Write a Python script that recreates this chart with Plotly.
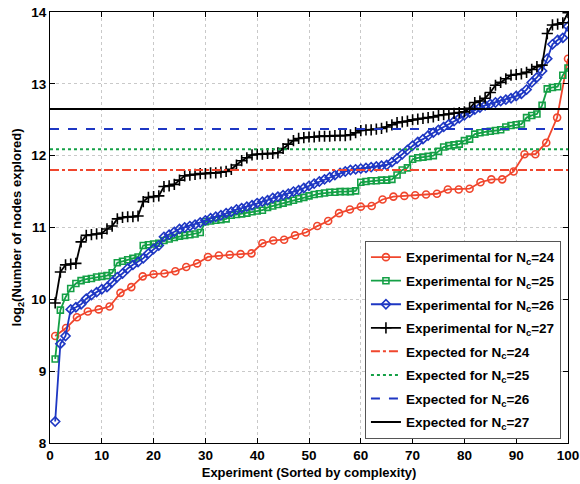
import plotly.graph_objects as go

# ---------------- data ----------------
exp_x = list(range(1, 101))

red_x = [1.0, 3.1, 5.2, 7.3, 9.4, 11.5, 13.6, 15.7, 17.9, 20.0, 22.1, 24.2, 26.3, 28.4,
         30.5, 32.6, 34.7, 36.8, 38.9, 41.0, 43.1, 45.2, 47.3, 49.4, 51.6, 53.7, 55.8,
         57.9, 60.0, 62.1, 64.2, 66.3, 68.4, 70.5, 72.6, 74.7, 76.8, 78.9, 81.0, 83.1,
         85.2, 87.3, 89.5, 91.6, 93.7, 95.8, 97.9, 100.0]
red_y = [9.49, 9.60, 9.75, 9.83, 9.86, 9.90, 10.09, 10.17, 10.32, 10.35,
         10.36, 10.39, 10.45, 10.50, 10.59, 10.61, 10.62, 10.63, 10.64, 10.78,
         10.82, 10.83, 10.89, 10.93, 11.02, 11.09, 11.20, 11.25, 11.29, 11.30,
         11.39, 11.43, 11.44, 11.45, 11.46, 11.47, 11.53, 11.53, 11.54, 11.63,
         11.67, 11.67, 11.78, 12.02, 12.02, 12.18, 12.53, 13.35]

green_y = [9.17, 9.85, 10.03, 10.15, 10.22, 10.26, 10.28, 10.29, 10.31, 10.32,
           10.33, 10.37, 10.51, 10.53, 10.55, 10.57, 10.59, 10.75, 10.76, 10.77,
           10.78, 10.82, 10.84, 10.86, 10.88, 10.89, 10.90, 10.91, 10.93, 11.08,
           11.09, 11.10, 11.11, 11.12, 11.17, 11.18, 11.19, 11.20, 11.22, 11.23,
           11.24, 11.28, 11.30, 11.32, 11.34, 11.36, 11.38, 11.40, 11.42, 11.44,
           11.46, 11.47, 11.48, 11.49, 11.49, 11.50, 11.50, 11.50, 11.51, 11.63,
           11.64, 11.65, 11.65, 11.66, 11.66, 11.67, 11.73, 11.80, 11.83, 11.95,
           11.97, 11.98, 11.99, 12.00, 12.06, 12.12, 12.14, 12.15, 12.16, 12.21,
           12.23, 12.30, 12.32, 12.33, 12.34, 12.35, 12.36, 12.40, 12.42, 12.43,
           12.44, 12.53, 12.56, 12.58, 12.70, 12.93, 12.95, 12.96, 13.12, 13.22]

blue_y = [8.30, 9.38, 9.49, 9.86, 9.89, 9.93, 10.01, 10.06, 10.10, 10.14,
          10.17, 10.24, 10.31, 10.36, 10.43, 10.48, 10.52, 10.57, 10.64, 10.70,
          10.75, 10.87, 10.90, 10.94, 10.98, 11.00, 11.02, 11.04, 11.07, 11.10,
          11.13, 11.15, 11.17, 11.20, 11.22, 11.25, 11.27, 11.29, 11.31, 11.34,
          11.36, 11.38, 11.41, 11.43, 11.45, 11.47, 11.50, 11.52, 11.55, 11.58,
          11.61, 11.64, 11.67, 11.70, 11.73, 11.76, 11.78, 11.80, 11.81, 11.82,
          11.83, 11.84, 11.85, 11.86, 11.87, 11.91, 11.96, 12.02, 12.08, 12.14,
          12.19, 12.23, 12.28, 12.32, 12.36, 12.40, 12.44, 12.48, 12.52, 12.56,
          12.60, 12.64, 12.67, 12.70, 12.72, 12.74, 12.76, 12.78, 12.80, 12.83,
          12.86, 12.92, 13.02, 13.09, 13.18, 13.35, 13.55, 13.61, 13.64, 13.80]

black_y = [9.95, 10.38, 10.48, 10.49, 10.50, 10.80, 10.89, 10.90, 10.91, 10.92,
           10.98, 11.02, 11.12, 11.14, 11.15, 11.15, 11.16, 11.36, 11.42, 11.43,
           11.44, 11.57, 11.58, 11.60, 11.66, 11.72, 11.73, 11.74, 11.75, 11.75,
           11.76, 11.76, 11.77, 11.78, 11.81, 11.87, 11.93, 11.97, 12.01, 12.02,
           12.02, 12.03, 12.03, 12.04, 12.10, 12.16, 12.21, 12.24, 12.25, 12.26,
           12.26, 12.27, 12.27, 12.27, 12.28, 12.28, 12.28, 12.29, 12.32, 12.35,
           12.36, 12.36, 12.37, 12.38, 12.40, 12.43, 12.46, 12.47, 12.48, 12.50,
           12.51, 12.52, 12.53, 12.54, 12.56, 12.57, 12.58, 12.59, 12.60, 12.61,
           12.66, 12.74, 12.76, 12.80, 12.88, 12.98, 13.02, 13.07, 13.12, 13.13,
           13.14, 13.16, 13.20, 13.24, 13.26, 13.70, 13.82, 13.83, 13.85, 13.99]

expected_levels = [11.80, 12.09, 12.37, 12.65]
nc_labels = ["24", "25", "26", "27"]
expected_span = [0, 100]

x_ticks = [0, 10, 20, 30, 40, 50, 60, 70, 80, 90, 100]
y_ticks = [8, 9, 10, 11, 12, 13, 14]

# ---------------- styles ----------------
RED = "#f0462d"
GREEN = "#14a046"
BLUE = "#1e37c3"
BLACK = "#000000"
FONT = "Liberation Sans, Arial, sans-serif"

fig = go.Figure()

exp_series = [
    (red_x, red_y, RED, "circle-open", 7),
    (exp_x, green_y, GREEN, "square-open", 6),
    (exp_x, blue_y, BLUE, "diamond-open", 7),
    (exp_x, black_y, BLACK, "cross-thin-open", 8),
]
for i, (xs, ys, col, sym, sz) in enumerate(exp_series):
    fig.add_trace(go.Scatter(
        x=xs, y=ys, mode="lines+markers",
        name=f"Experimental for N<sub>c</sub>={nc_labels[i]}",
        legendgroup=f"e{i}",
        line=dict(color=col, width=1.8),
        marker=dict(symbol=sym, size=sz, color=col, line=dict(color=col, width=1.6)),
    ))

dashes = ["dashdot", "dot", "dash", "solid"]
exp_cols = [RED, GREEN, BLUE, BLACK]
for i, lvl in enumerate(expected_levels):
    fig.add_trace(go.Scatter(
        x=expected_span, y=[lvl, lvl], mode="lines",
        name=f"Expected for N<sub>c</sub>={nc_labels[i]}",
        legendgroup=f"x{i}",
        line=dict(color=exp_cols[i], width=2, dash=dashes[i]),
    ))

axis_common = dict(
    showline=True, linecolor="black", linewidth=1, mirror="ticks",
    ticks="inside", ticklen=5, tickcolor="black",
    showgrid=True, gridcolor="#c9c9c9", griddash="dot", gridwidth=1,
    zeroline=False, ticklabeloverflow="allow",
    tickfont=dict(family=FONT, size=13.5, color="black", weight="bold"),
)

fig.update_layout(
    width=580, height=484,
    margin=dict(l=50, r=12, t=12, b=41, autoexpand=False),
    paper_bgcolor="white", plot_bgcolor="white",
    showlegend=True,
    legend=dict(
        x=0.608, y=0.469, xanchor="left", yanchor="top",
        bordercolor="#555555", borderwidth=1, bgcolor="white",
        font=dict(family=FONT, size=13.5, color="black", weight="bold"),
        tracegroupgap=3,
    ),
    xaxis=dict(range=[0, 100], tickvals=x_ticks,
               title=dict(text="Experiment (Sorted by complexity)", standoff=5,
                          font=dict(family=FONT, size=13, color="black", weight="bold")),
               **axis_common),
    yaxis=dict(range=[8, 14], tickvals=y_ticks,
               title=dict(text="log<sub>2</sub>(Number of nodes explored)", standoff=6,
                          font=dict(family=FONT, size=13, color="black", weight="bold")),
               **axis_common),
)

fig.write_html("out.html")
